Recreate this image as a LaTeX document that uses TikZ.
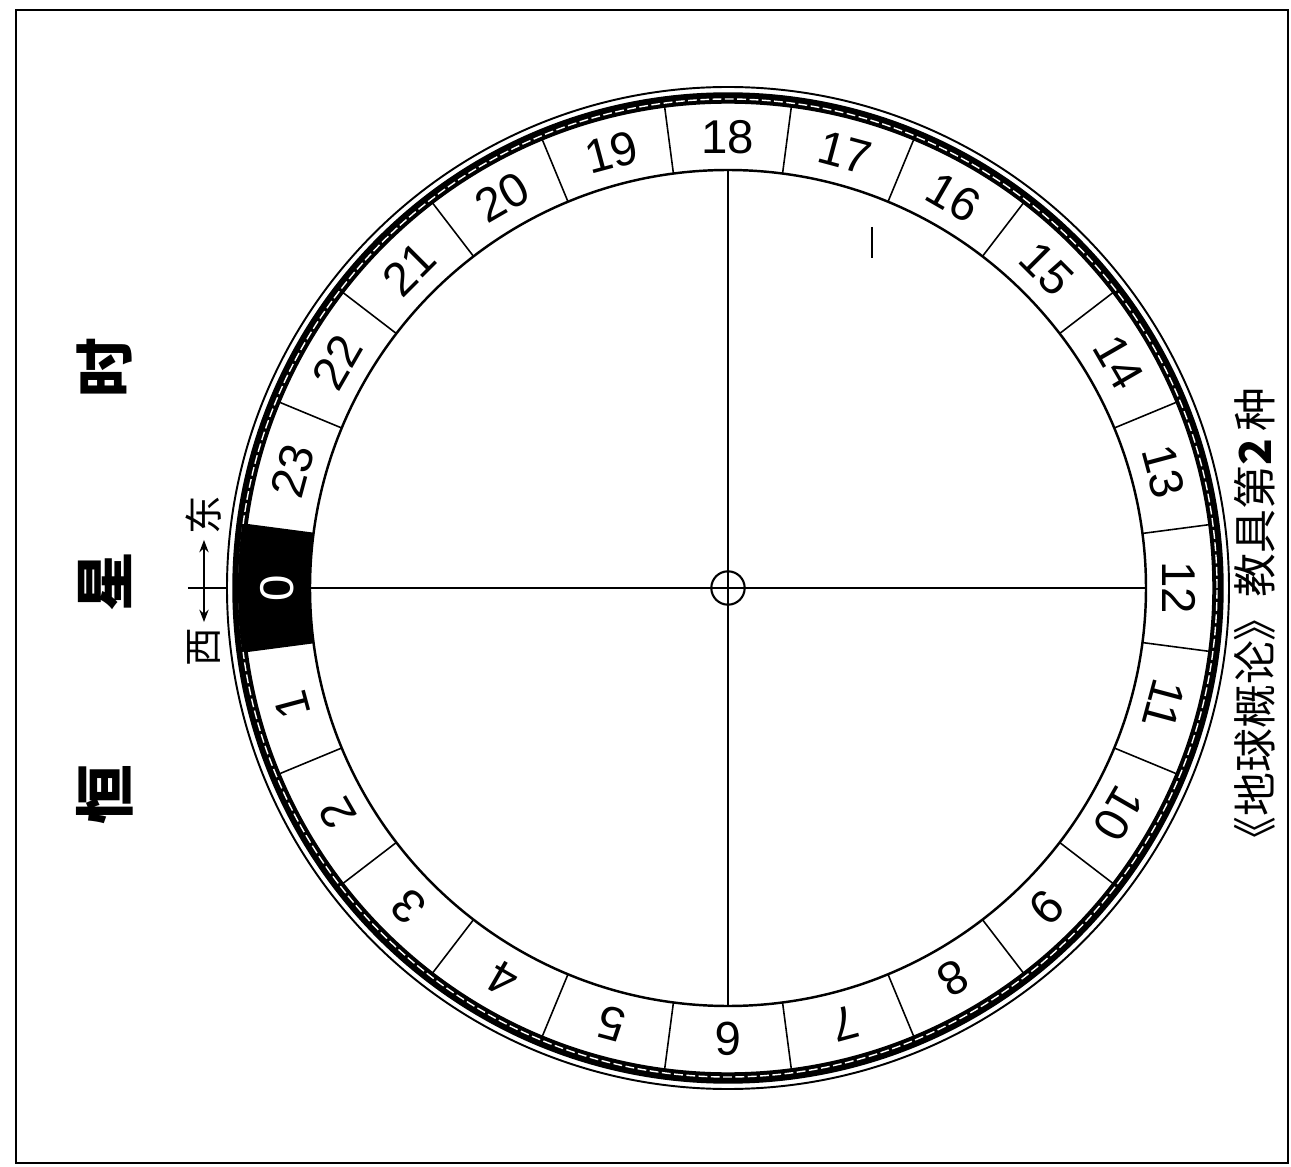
\documentclass[tikz,border=0pt]{standalone}
\usepackage{fontspec}
\setmainfont{Liberation Sans}
\newfontfamily\cjk{Noto Sans CJK SC}
\usetikzlibrary{arrows.meta,positioning}
\tikzset{
  dial/.style={line width=1.4pt},
  cellline/.style={line width=0.9pt},
  hournum/.style={font=\fontsize{27}{27}\selectfont, inner sep=0pt},
  titlechar/.style={font=\cjk\bfseries\fontsize{34}{34}\selectfont, rotate=90, inner sep=0pt},
  dirchar/.style={font=\cjk\fontsize{22}{22}\selectfont, rotate=90, inner sep=3pt},
  arrow/.style={{Stealth[length=7pt]}-{Stealth[length=7pt]}, line width=1.2pt},
}

\begin{document}
\begin{tikzpicture}[x=0.02cm, y=0.02cm]
  \useasboundingbox (-728,588) rectangle (563,-578);
  % Frame
  \draw[line width=1.6pt] (-712,578) rectangle (560,-575);

  % Rims of the dial
  \draw[line width=6.5pt] (0,0) circle [radius=490];
  \draw[white, line width=0.8pt, dash pattern=on 5pt off 2pt] (0,0) circle [radius=489];
  \draw[line width=1.1pt] (0,0) circle [radius=501];
  \draw[dial] (0,0) circle [radius=418];

  % Black cell of hour 0
  \fill (172.5:418) arc [start angle=172.5, end angle=187.5, radius=418]
    -- (187.5:490) arc [start angle=187.5, end angle=172.5, radius=490] -- cycle;

  % Cell dividers
  \foreach \h in {0,...,23}
    \draw[cellline] ({187.5+15*\h}:418) -- ({187.5+15*\h}:485);

  % Hour numbers
  \node[hournum, text=white, rotate=90] (h0) at (180:451) {0};
  \foreach \h in {1,...,23}
    \node[hournum, rotate={90+15*\h}] (h\h) at ({180+15*\h}:451) {\h};

  % Centre and cross lines
  \node[draw, circle, minimum size=19pt, inner sep=0pt, line width=1.2pt] (c) at (0,0) {};
  \coordinate (top) at (90:418);
  \coordinate (bot) at (270:418);
  \coordinate (lft) at (180:418);
  \coordinate (rgt) at (0:418);
  \draw[dial] (top) -- (bot);
  \draw[dial] (lft) -- (rgt);

  % Small mark
  \draw[line width=1.2pt] (144,361) -- (144,330);

  % Title
  \node[titlechar] (shi) at (-623,220) {时};
  \node[titlechar] (xing) at (-623,6) {星};
  \node[titlechar] (heng) at (-623,-207) {恒};

  % West and east
  \node[dirchar] (xi) at (-524,-59) {西};
  \node[dirchar] (dong) at (-524,73) {东};
  \draw[arrow] (xi) -- (dong);
  \coordinate (tick) at (-540,0);
  \coordinate (rim) at (180:501);
  \draw[line width=1pt] (tick) -- (rim);

  % Source
  \node[font=\cjk\fontsize{25}{25}\selectfont, rotate=90] (src) at (527,-36)
    {《地球概论》教具第\textbf{2}\,种};
\end{tikzpicture}
\end{document}
